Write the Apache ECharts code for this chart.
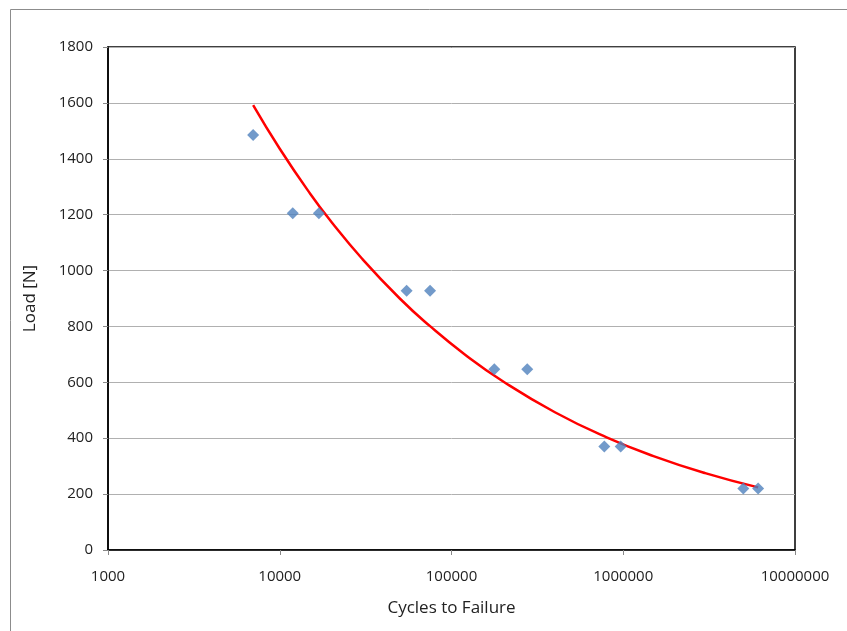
<!DOCTYPE html>
<html>
<head>
<meta charset="utf-8">
<script src="https://cdn.jsdelivr.net/npm/echarts@6/dist/echarts.min.js"></script>
<style>
html,body{margin:0;padding:0;background:#fff;}
#chart{width:847px;height:631px;}
</style>
</head>
<body>
<div id="chart"></div>
<script>
// Measured data points (cycles to failure, load in N)
const cycles = [7000, 11900, 16900, 54800, 75000, 177500, 276000, 776000, 966000, 5000000, 6100000];
const loads  = [1485, 1205, 1205, 928, 928, 647, 647, 370, 370, 220, 220];

// Trend line (cycles, load)
const trendCycles = [7000, 10000, 15000, 20000, 30000, 50000, 75000, 120000, 200000, 400000, 800000, 1500000, 3000000, 6100000];
const trendLoads  = [1592, 1436, 1276, 1174, 1044, 900, 801, 699, 603, 493, 403, 336, 275, 224];

const yTicks = [0, 200, 400, 600, 800, 1000, 1200, 1400, 1600, 1800];
const xTickLabels = ['1000', '10000', '100000', '1000000', '10000000'];

const font = '"Open Sans", Lato, sans-serif';
const chart = echarts.init(document.getElementById('chart'));

chart.setOption({
  backgroundColor: '#fff',
  animation: false,
  graphic: [{
    type: 'rect',
    shape: {x: 10.5, y: 9.5, width: 860, height: 650},
    style: {fill: 'none', stroke: '#8c8c8c', lineWidth: 1},
    silent: true
  }],
  grid: {
    left: 108, top: 47, width: 687, height: 503,
    show: true, borderColor: '#000', borderWidth: 1.5, backgroundColor: 'transparent'
  },
  xAxis: {
    type: 'log', logBase: 10, min: 1000, max: 10000000,
    name: 'Cycles to Failure', nameLocation: 'middle', nameGap: 50,
    nameTextStyle: {fontFamily: font, fontSize: 17, color: '#222'},
    axisLine: {show: true, lineStyle: {color: '#000', width: 1.5}},
    axisTick: {show: true, inside: false, length: 5, lineStyle: {color: '#888'}},
    axisLabel: {
      fontFamily: font, fontSize: 15, color: '#222', margin: 19,
      formatter: function (v) {
        const i = Math.round(Math.log10(v)) - 3;
        return xTickLabels[i] !== undefined ? xTickLabels[i] : '';
      }
    },
    splitLine: {show: false},
    minorTick: {show: false}
  },
  yAxis: {
    type: 'value', min: yTicks[0], max: yTicks[yTicks.length - 1], interval: 200,
    name: 'Load [N]', nameLocation: 'middle', nameGap: 69, nameRotate: 90,
    nameTextStyle: {fontFamily: font, fontSize: 17, color: '#222'},
    axisLine: {show: true, lineStyle: {color: '#000', width: 1.5}},
    axisTick: {show: true, inside: false, length: 5, lineStyle: {color: '#888'}},
    axisLabel: {fontFamily: font, fontSize: 15, color: '#222', margin: 15,
      formatter: function (v) { return String(v); }},
    splitLine: {show: true, lineStyle: {color: '#b0b0b0', width: 1}}
  },
  series: [
    {
      type: 'line',
      data: trendCycles.map((c, i) => [c, trendLoads[i]]),
      smooth: 0.5,
      showSymbol: false,
      lineStyle: {color: '#ff0000', width: 2.5},
      z: 2
    },
    {
      type: 'scatter',
      data: cycles.map((c, i) => [c, loads[i]]),
      symbol: 'diamond',
      symbolSize: 12,
      itemStyle: {color: '#4f81bd'},
      z: 3
    }
  ]
});
</script>
</body>
</html>
